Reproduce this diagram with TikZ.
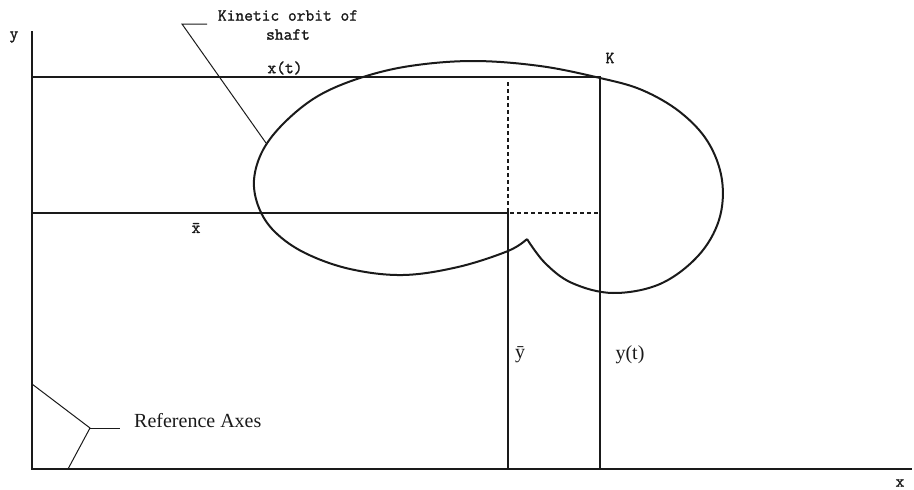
\documentclass[tikz,border=0pt]{standalone}
\usepackage{fontspec}
\setmainfont{Liberation Serif}
\newfontfamily\orbitmono[FakeBold=1.4]{Latin Modern Mono}
\usepackage{xcolor}
\usepackage{tikz}
\usetikzlibrary{positioning}
\definecolor{inkblack}{HTML}{1A1A1A}
\tikzset{
  axis line/.style  = {inkblack, line width=2pt},
  ref line/.style   = {inkblack, line width=1.5pt},
  proj line/.style  = {inkblack, line width=1.3pt, dash pattern=on 4pt off 3pt},
  orbit path/.style = {inkblack, line width=2pt, line join=round},
  leader/.style     = {inkblack, line width=1pt},
  mono label/.style = {inkblack, inner sep=1pt,
                       font=\orbitmono\bfseries\fontsize{17}{19}\selectfont},
  serif label/.style = {inkblack, inner sep=1pt,
                        font=\fontsize{20}{23}\selectfont},
}

\begin{document}
\begin{tikzpicture}[x=1pt, y=-1pt]
    \useasboundingbox (0,0) rectangle (914,490);
    % reference axes
    \coordinate (origin) at (32,469);
    \coordinate (ytop) at (32,31);
    \coordinate (xend) at (912,469);
    \draw[axis line] (ytop) -- (origin) -- (xend);
    \node[mono label] (ylab) at (14,37) {y};
    \node[mono label] (xlab) at (900,483) {x};
    % instantaneous and mean position lines
    \coordinate (K) at (600,77);
    \coordinate (xt left) at (32,77);
    \coordinate (mean) at (508,213);
    \coordinate (xbar left) at (32,213);
    \coordinate (mean top) at (508,82);
    \coordinate (mean right) at (600,213);
    \coordinate (ybar foot) at (508,469);
    \coordinate (yt foot) at (600,469);
    \draw[ref line] (xt left) -- (K) -- (yt foot);
    \draw[ref line] (xbar left) -- (mean) -- (ybar foot);
    \draw[proj line] (mean top) -- (mean) -- (mean right);
    % orbit of the shaft centre
    \draw[orbit path] plot[smooth, tension=0.6] coordinates {
      (527,239) (545,263) (572,283) (613,293) (660,284) (698,256)
      (719,220) (722,180) (708,142) (680,112) (642,90) (600,78)
      (540,66) (473,61) (410,66) (360,78) (318,96) (285,122)
      (263,150) (254,180) (259,208) (275,232) (305,253) (350,269)
      (403,275) (458,267) (508,251) (527,239)};
    \coordinate (orbit tip) at (266,143);
    % labels
    \node[mono label] (xt) at (285,68) {x(t)};
    \node[mono label] (klab) at (610,58) {K};
    \node[mono label] (xbar) at (196,228) {\=x};
    \node[serif label] (ybar) at (520,355) {\=y};
    \node[serif label] (yt) at (630,355) {y(t)};
    \node[mono label, align=center] (orbit lab) at (288,25)
      {Kinetic orbit of\\shaft};
    \coordinate (orbit knee) at (182,24);
    \coordinate (orbit bar) at (207,24);
    \draw[leader] (orbit bar) -- (orbit knee) -- (orbit tip);
    \node[serif label, anchor=west] (ref lab) at (133,421) {Reference Axes};
    \coordinate (ref knee) at (90,428);
    \coordinate (ref bar) at (120,428);
    \coordinate (ref up) at (32,384);
    \coordinate (ref down) at (68,469);
    \draw[leader] (ref up) -- (ref knee) -- (ref down);
    \draw[leader] (ref knee) -- (ref bar);
\end{tikzpicture}
\end{document}
